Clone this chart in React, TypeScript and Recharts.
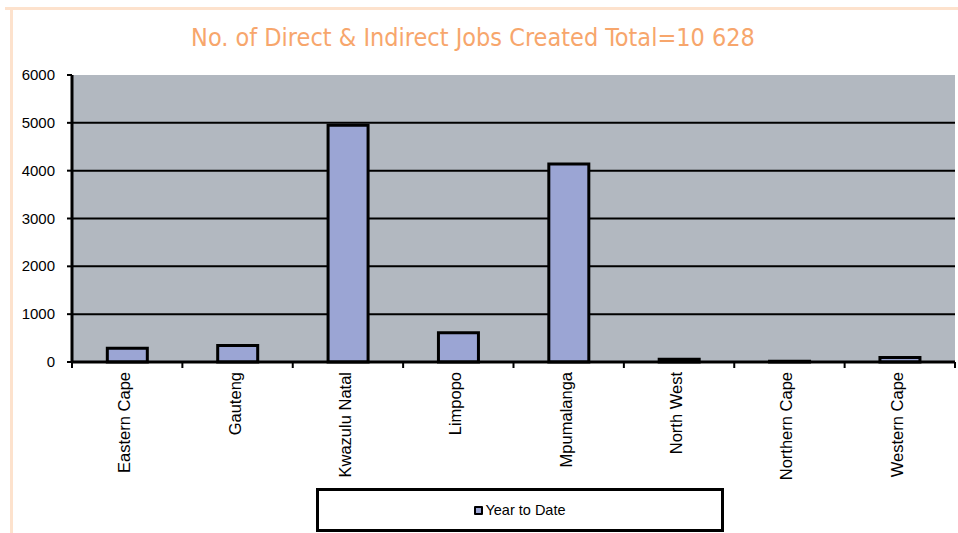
import React from 'react';
import { BarChart, Bar, XAxis, YAxis, CartesianGrid, Legend } from 'recharts';

const provinces = [
  'Eastern Cape',
  'Gauteng',
  'Kwazulu Natal',
  'Limpopo',
  'Mpumalanga',
  'North West',
  'Northern Cape',
  'Western Cape',
];
const yearToDate = [285, 345, 4950, 610, 4140, 55, 15, 95];
const yTicks = [0, 1000, 2000, 3000, 4000, 5000, 6000];
const gridValues = [1000, 2000, 3000, 4000, 5000];

const TITLE = 'No. of Direct & Indirect Jobs Created Total=10 628';
const SERIES = 'Year to Date';

const data = provinces.map((name, i) => ({ name, ytd: yearToDate[i] }));

const FONT = '"Liberation Sans", Arial, sans-serif';

// label rotated bottom-to-top, plus Excel style tick marks on the band edges
const ProvinceTick = (props: any) => {
  const { x, y, payload, index, visibleTicksCount } = props;
  const half = payload?.offset ?? 55;
  const axisY = y - 10;
  const last = index === (visibleTicksCount ?? provinces.length) - 1;
  return (
    <g>
      <line x1={x - half} x2={x - half} y1={axisY} y2={axisY + 6} stroke="#000" strokeWidth={2} />
      {last && <line x1={x + half} x2={x + half} y1={axisY} y2={axisY + 6} stroke="#000" strokeWidth={2} />}
      <text
        x={0}
        y={0}
        transform={`translate(${x + 3}, ${y}) rotate(-90)`}
        textAnchor="end"
        fontSize={16.5}
        fontFamily={FONT}
        fill="#000"
      >
        {payload.value}
      </text>
    </g>
  );
};

const ValueTick = (props: any) => {
  const { x, y, payload } = props;
  return (
    <text x={x} y={y} dy={5} textAnchor="end" fontSize={15} fontFamily={FONT} fill="#000">
      {payload.value}
    </text>
  );
};

const LegendBox = () => (
  <div
    style={{
      width: '100%',
      height: '100%',
      display: 'flex',
      alignItems: 'center',
      justifyContent: 'center',
      fontFamily: FONT,
      fontSize: 14.5,
      color: '#000',
    }}
  >
    <span
      style={{
        display: 'inline-block',
        width: 5,
        height: 5,
        background: '#9ba5d4',
        border: '2px solid #000',
        borderRadius: 1,
        marginRight: 2,
      }}
    />
    {SERIES}
  </div>
);

export default function App() {
  return (
    <div style={{ position: 'absolute', left: 0, top: 0, width: 958, height: 533, background: '#fff', overflow: 'hidden' }}>
      <div style={{ position: 'absolute', left: 5, top: 7, width: 953, height: 3, background: '#fde2cd' }} />
      <div style={{ position: 'absolute', left: 10, top: 7, width: 3, height: 526, background: '#fde2cd' }} />
      <div
        style={{
          position: 'absolute',
          left: 0,
          top: 22,
          width: 946,
          textAlign: 'center',
          color: '#f7a66c',
          fontSize: 25,
          fontFamily: '"Liberation Sans Narrow", "DejaVu Sans Condensed", sans-serif',
          lineHeight: '32px',
        }}
      >
        {TITLE}
      </div>
      <BarChart
        width={958}
        height={533}
        data={data}
        margin={{ top: 75, right: 3, left: 0, bottom: 51 }}
        barCategoryGap="32%"
      >
        <CartesianGrid
          fill="#b2b8c0"
          vertical={false}
          horizontalValues={gridValues}
          stroke="#000"
          strokeWidth={2}
          strokeOpacity={1}
        />
        <XAxis
          dataKey="name"
          height={120}
          interval={0}
          tickSize={5}
          tickMargin={5}
          tickLine={false}
          axisLine={{ stroke: '#000', strokeWidth: 3 }}
          tick={<ProvinceTick />}
        />
        <YAxis
          width={72}
          domain={[0, 6000]}
          ticks={yTicks}
          interval={0}
          tickSize={5}
          tickMargin={12}
          axisLine={{ stroke: '#000', strokeWidth: 3 }}
          tickLine={{ stroke: '#000', strokeWidth: 2 }}
          tick={<ValueTick />}
        />
        <Legend
          layout="horizontal"
          verticalAlign="middle"
          align="center"
          content={<LegendBox />}
          wrapperStyle={{
            left: 316,
            top: 488,
            width: 408,
            height: 44,
            border: '3px solid #000',
            boxSizing: 'border-box',
            background: '#fff',
          }}
        />
        <Bar dataKey="ytd" name={SERIES} fill="#9ba5d4" stroke="#000" strokeWidth={3} isAnimationActive={false} />
      </BarChart>
    </div>
  );
}
